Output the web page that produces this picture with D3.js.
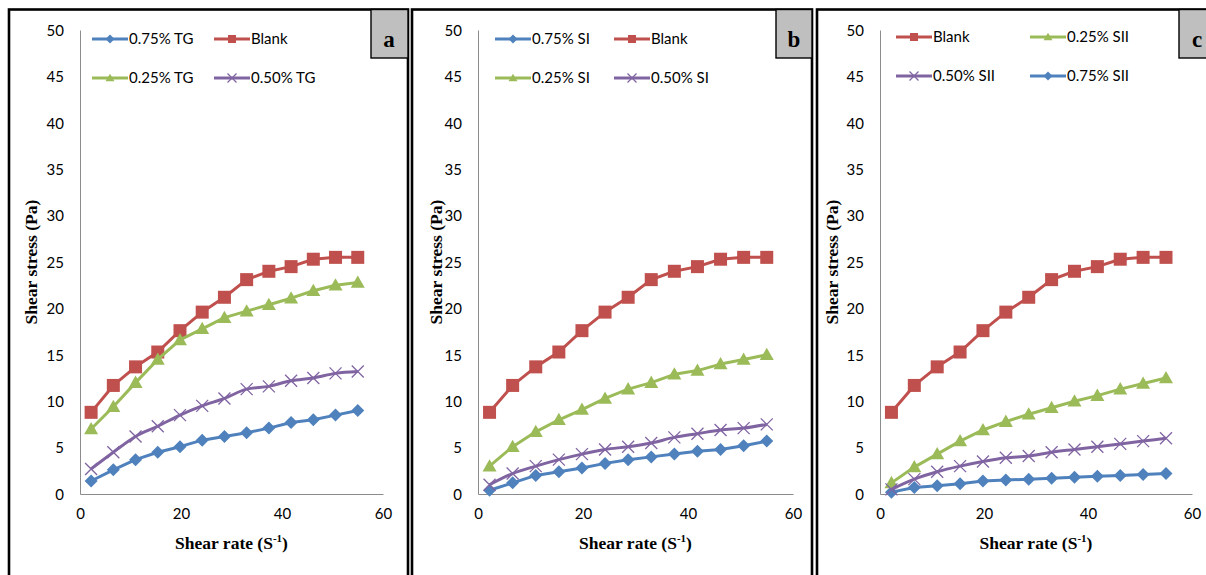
<!DOCTYPE html>
<html>
<head>
<meta charset="utf-8">
<script src="https://cdn.jsdelivr.net/npm/d3@7"></script>
<style>
  html, body { margin: 0; padding: 0; background: #fff; }
  svg { display: block; }
</style>
</head>
<body>
<svg id="chart" width="1206" height="575"></svg>
<script>
// ---------- DATA ----------
const shearRate = [2.2, 6.6, 11, 15.4, 19.8, 24.2, 28.6, 33, 37.4, 41.8, 46.2, 50.6, 55];

const blank  = [8.8, 11.7, 13.7, 15.3, 17.6, 19.6, 21.2, 23.1, 24.0, 24.5, 25.3, 25.5, 25.5];

const tg025  = [7.0, 9.4, 12.0, 14.5, 16.6, 17.8, 19.0, 19.7, 20.4, 21.1, 21.9, 22.5, 22.8];
const tg050  = [2.7, 4.5, 6.2, 7.3, 8.5, 9.5, 10.3, 11.3, 11.6, 12.2, 12.5, 13.0, 13.2];
const tg075  = [1.4, 2.6, 3.7, 4.5, 5.1, 5.8, 6.2, 6.6, 7.1, 7.7, 8.0, 8.5, 9.0];

const si025  = [3.0, 5.1, 6.7, 8.0, 9.1, 10.3, 11.3, 12.0, 12.9, 13.3, 14.0, 14.5, 15.0];
const si050  = [1.0, 2.2, 3.0, 3.7, 4.3, 4.8, 5.1, 5.5, 6.1, 6.5, 6.9, 7.1, 7.5];
const si075  = [0.4, 1.2, 2.0, 2.4, 2.8, 3.3, 3.7, 4.0, 4.3, 4.6, 4.8, 5.2, 5.7];

const sii025 = [1.2, 2.9, 4.3, 5.7, 6.9, 7.8, 8.6, 9.3, 10.0, 10.6, 11.3, 11.9, 12.5];
const sii050 = [0.5, 1.6, 2.4, 3.0, 3.5, 3.9, 4.1, 4.5, 4.8, 5.1, 5.4, 5.7, 6.0];
const sii075 = [0.2, 0.7, 0.9, 1.1, 1.4, 1.5, 1.6, 1.7, 1.8, 1.9, 2.0, 2.1, 2.2];

const yTicks = [0, 5, 10, 15, 20, 25, 30, 35, 40, 45, 50];
const xTicks = [0, 20, 40, 60];

const panelLetters = ["a", "b", "c"];
const legendA = ["0.75% TG", "Blank", "0.25% TG", "0.50% TG"];
const legendB = ["0.75% SI", "Blank", "0.25% SI", "0.50% SI"];
const legendC = ["Blank", "0.25% SII", "0.50% SII", "0.75% SII"];

// ---------- STYLE ----------
const COLORS = { blue: "#4F81BD", red: "#C0504D", green: "#9BBB59", purple: "#8064A2" };
const svg = d3.select("#chart");

const panels = [
  {
    letter: panelLetters[0],
    frame: [9, 408], xRange: [80, 383], box: [371, 408],
    series: [
      { name: legendA[0], values: tg075, color: COLORS.blue,   marker: "diamond" },
      { name: legendA[1], values: blank, color: COLORS.red,    marker: "square" },
      { name: legendA[2], values: tg025, color: COLORS.green,  marker: "triangle" },
      { name: legendA[3], values: tg050, color: COLORS.purple, marker: "x", smooth: true }
    ],
    legendPos: [[92, 39], [214, 39], [92, 78], [214, 78]],
    ylabX: 31
  },
  {
    letter: panelLetters[1],
    frame: [412, 812], xRange: [478, 793], box: [776, 812],
    series: [
      { name: legendB[0], values: si075, color: COLORS.blue,   marker: "diamond" },
      { name: legendB[1], values: blank, color: COLORS.red,    marker: "square" },
      { name: legendB[2], values: si025, color: COLORS.green,  marker: "triangle" },
      { name: legendB[3], values: si050, color: COLORS.purple, marker: "x", smooth: true }
    ],
    legendPos: [[495, 39], [614, 39], [495, 78], [614, 78]],
    ylabX: 436
  },
  {
    letter: panelLetters[2],
    frame: [817, 1222], xRange: [880, 1192], box: [1179, 1222],
    series: [
      { name: legendC[3], values: sii075, color: COLORS.blue,   marker: "diamond" },
      { name: legendC[0], values: blank,  color: COLORS.red,    marker: "square" },
      { name: legendC[1], values: sii025, color: COLORS.green,  marker: "triangle" },
      { name: legendC[2], values: sii050, color: COLORS.purple, marker: "x", smooth: true }
    ],
    legendOrder: [1, 2, 3, 0],
    legendPos: [[896, 37], [1030, 37], [896, 76], [1030, 76]],
    ylabX: 832
  }
];

function drawMarker(g, type, x, y, color, s) {
  if (type === "square") {
    g.append("rect").attr("x", x - s / 2).attr("y", y - s / 2)
      .attr("width", s).attr("height", s).attr("fill", color);
  } else if (type === "diamond") {
    const r = s / 2 + 0.5;
    g.append("path").attr("d", `M${x},${y - r}L${x + r},${y}L${x},${y + r}L${x - r},${y}Z`)
      .attr("fill", color);
  } else if (type === "triangle") {
    const h = s * 0.9;
    g.append("path").attr("d", `M${x},${y - h * 0.6}L${x + s / 2 + 0.5},${y + h * 0.45}L${x - s / 2 - 0.5},${y + h * 0.45}Z`)
      .attr("fill", color);
  } else if (type === "x") {
    const r = s / 2;
    g.append("path").attr("d", `M${x - r},${y - r}L${x + r},${y + r}M${x - r},${y + r}L${x + r},${y - r}`)
      .attr("stroke", color).attr("stroke-width", 1.3).attr("fill", "none");
  }
}

const markerSize = { square: 13, diamond: 12, triangle: 13, x: 12 };

panels.forEach(p => {
  const g = svg.append("g");
  const x = d3.scaleLinear().domain([0, 60]).range(p.xRange);
  const y = d3.scaleLinear().domain([0, 50]).range([494, 30]);

  g.append("rect")
    .attr("x", p.frame[0]).attr("y", 9.5)
    .attr("width", p.frame[1] - p.frame[0]).attr("height", 620)
    .attr("fill", "#fff").attr("stroke", "#000").attr("stroke-width", 2.6);

  g.append("rect")
    .attr("x", p.box[0]).attr("y", 9.5)
    .attr("width", p.box[1] - p.box[0]).attr("height", 48.5)
    .attr("fill", "#BFBFBF").attr("stroke", "#000").attr("stroke-width", 1.4);
  g.append("text")
    .attr("x", p.box[0] + 18).attr("y", 47)
    .attr("text-anchor", "middle")
    .attr("font-family", "Liberation Serif, serif")
    .attr("font-weight", "bold").attr("font-size", 23)
    .text(p.letter);

  const yAxis = d3.axisLeft(y).tickValues(yTicks).tickSize(0).tickPadding(16);
  const xAxis = d3.axisBottom(x).tickValues(xTicks).tickSize(0).tickPadding(14);
  const ya = g.append("g").attr("transform", `translate(${p.xRange[0]},0)`).call(yAxis);
  const xa = g.append("g").attr("transform", `translate(0,494)`).call(xAxis);
  [ya, xa].forEach(a => {
    a.select(".domain").attr("stroke", "#8C8C8C").attr("stroke-width", 1);
    a.selectAll("text").attr("font-family", "Lato, sans-serif").attr("font-size", 15).attr("fill", "#000");
  });
  ya.selectAll("text").attr("dy", "0.35em");

  g.append("text")
    .attr("transform", `translate(${p.ylabX},262) rotate(-90)`)
    .attr("text-anchor", "middle").attr("dy", "0.35em")
    .attr("font-family", "Liberation Serif, serif").attr("font-weight", "bold").attr("font-size", 17.5)
    .text("Shear stress (Pa)");
  const xt = g.append("text")
    .attr("x", (p.xRange[0] + p.xRange[1]) / 2).attr("y", 549)
    .attr("text-anchor", "middle")
    .attr("font-family", "Liberation Serif, serif").attr("font-weight", "bold").attr("font-size", 17.5);
  xt.append("tspan").text("Shear rate (S");
  xt.append("tspan").attr("dy", -7).attr("font-size", 11).text("-1");
  xt.append("tspan").attr("dy", 7).text(")");

  p.series.forEach(s => {
    const pts = s.values.map((v, i) => [shearRate[i], v]);
    const line = d3.line().x(d => x(d[0])).y(d => y(d[1]))
      .curve(s.smooth ? d3.curveMonotoneX : d3.curveLinear);
    g.append("path").attr("d", line(pts))
      .attr("fill", "none").attr("stroke", s.color).attr("stroke-width", 3)
      .attr("stroke-linejoin", "round");
    const mg = g.append("g");
    pts.forEach(d => drawMarker(mg, s.marker, x(d[0]), y(d[1]), s.color, markerSize[s.marker]));
  });

  const order = p.legendOrder || [0, 1, 2, 3];
  order.forEach((si, k) => {
    const s = p.series[si];
    const [lx, ly] = p.legendPos[k];
    const lg = g.append("g");
    lg.append("line").attr("x1", lx).attr("x2", lx + 36).attr("y1", ly).attr("y2", ly)
      .attr("stroke", s.color).attr("stroke-width", 3);
    drawMarker(lg, s.marker, lx + 18, ly, s.color, s.marker === "x" ? 9 : 8);
    lg.append("text").attr("x", lx + 37).attr("y", ly).attr("dy", "0.35em")
      .attr("font-family", "Lato, sans-serif").attr("font-size", 15).attr("fill", "#000")
      .text(s.name);
  });
});
</script>
</body>
</html>
